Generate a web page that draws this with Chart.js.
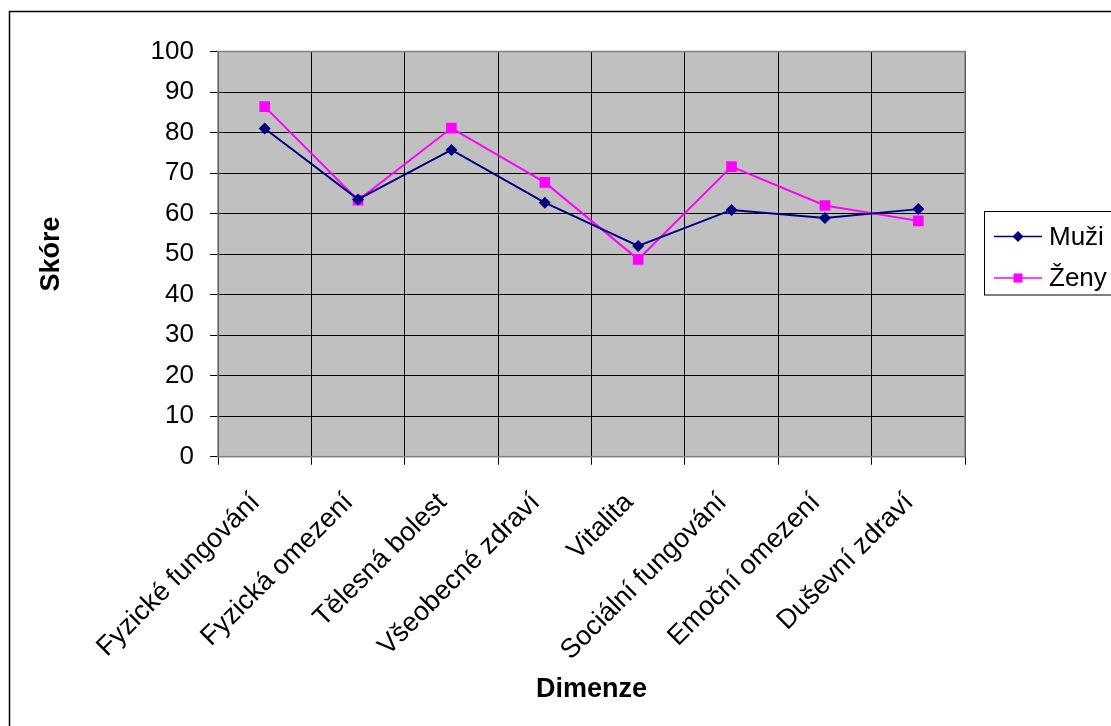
<!DOCTYPE html>
<html>
<head>
<meta charset="utf-8">
<script src="https://cdn.jsdelivr.net/npm/chart.js@4/dist/chart.umd.min.js"></script>
<style>
  html, body { margin: 0; padding: 0; background: #fff; }
  #wrap { width: 1111px; height: 726px; }
</style>
</head>
<body>
<div id="wrap"><canvas id="c" width="1111" height="726"></canvas></div>
<script>
// Dimension categories (SF-36 style scores)
const categories = [
  'Fyzické fungování', 'Fyzická omezení', 'Tělesná bolest', 'Všeobecné zdraví',
  'Vitalita', 'Sociální fungování', 'Emoční omezení', 'Duševní zdraví'
];
const muzi = [81, 63.5, 75.7, 62.7, 52, 60.9, 58.9, 61.1];
const zeny = [86.4, 63.3, 81.1, 67.7, 48.7, 71.6, 62, 58.2];
const yTicks = [0, 10, 20, 30, 40, 50, 60, 70, 80, 90, 100];

const FONT = '"Liberation Sans", Arial, sans-serif';

// White page, grey plot area and the outer frame
const framePlugin = {
  id: 'frame',
  beforeDraw(chart) {
    const { ctx, chartArea: a } = chart;
    ctx.save();
    ctx.fillStyle = '#fff';
    ctx.fillRect(0, 0, chart.width, chart.height);
    ctx.fillStyle = '#C0C0C0';
    ctx.fillRect(a.left, a.top, a.right - a.left, a.bottom - a.top);
    ctx.restore();
  },
  afterDraw(chart) {
    const { ctx, chartArea: a } = chart;
    ctx.save();
    ctx.strokeStyle = '#808080';
    ctx.lineWidth = 1.5;
    ctx.strokeRect(a.left, a.top, a.right - a.left, a.bottom - a.top);
    ctx.strokeStyle = '#000';
    ctx.lineWidth = 1.5;
    ctx.strokeRect(9.5, 11.5, chart.width + 20, chart.height + 20);
    ctx.restore();
  }
};

// Boxed legend at the right with line + marker samples
const boxLegend = {
  id: 'boxLegend',
  afterDraw(chart) {
    const ctx = chart.ctx;
    const bx = 984.5, by = 211.5, bw = 150, bh = 83.5;
    ctx.save();
    ctx.fillStyle = '#fff';
    ctx.fillRect(bx, by, bw, bh);
    ctx.strokeStyle = '#000';
    ctx.lineWidth = 1;
    ctx.strokeRect(bx, by, bw, bh);
    chart.data.datasets.forEach((ds, i) => {
      const y = 236.5 + i * 41.5;
      ctx.strokeStyle = ds.borderColor;
      ctx.lineWidth = 1.5;
      ctx.beginPath();
      ctx.moveTo(994, y);
      ctx.lineTo(1042, y);
      ctx.stroke();
      ctx.fillStyle = ds.borderColor;
      ctx.beginPath();
      if (ds.pointStyle === 'rectRot') {
        const r = 5.5;
        ctx.moveTo(1018, y - r);
        ctx.lineTo(1018 + r, y);
        ctx.lineTo(1018, y + r);
        ctx.lineTo(1018 - r, y);
        ctx.closePath();
      } else {
        ctx.rect(1018 - 4.5, y - 4.5, 9, 9);
      }
      ctx.fill();
      ctx.fillStyle = '#000';
      ctx.font = '26px ' + FONT;
      ctx.textBaseline = 'middle';
      ctx.textAlign = 'left';
      ctx.fillText(ds.label, 1049, y + 1);
    });
    ctx.restore();
  }
};

new Chart(document.getElementById('c'), {
  type: 'line',
  data: {
    labels: categories,
    datasets: [
      {
        label: 'Muži',
        data: muzi,
        borderColor: '#000080',
        backgroundColor: '#000080',
        borderWidth: 2,
        pointStyle: 'rectRot',
        pointRadius: 6,
        pointHoverRadius: 6,
        pointBorderWidth: 0,
        tension: 0
      },
      {
        label: 'Ženy',
        data: zeny,
        borderColor: '#FF00FF',
        backgroundColor: '#FF00FF',
        borderWidth: 2,
        pointStyle: 'rect',
        pointRadius: 7.5,
        pointHoverRadius: 7.5,
        pointBorderWidth: 0,
        tension: 0
      }
    ]
  },
  options: {
    responsive: false,
    animation: false,
    devicePixelRatio: 1,
    layout: { padding: { top: 51.5, right: 146, left: 0, bottom: 0 } },
    plugins: { legend: { display: false }, tooltip: { enabled: false } },
    scales: {
      x: {
        offset: true,
        grid: { offset: true, color: '#000', lineWidth: 1, tickLength: 8, tickColor: '#000' },
        border: { display: false },
        ticks: {
          autoSkip: false, maxRotation: 45, minRotation: 45,
          color: '#000', font: { family: FONT, size: 27 }, padding: 22,
          labelOffset: -9
        },
        title: {
          display: true, text: 'Dimenze', color: '#000',
          font: { family: FONT, size: 27, weight: 'bold' },
          padding: { top: 0, bottom: 20 }
        },
        afterFit(scale) { scale.height = 269.3; }
      },
      y: {
        min: 0, max: 100,
        afterBuildTicks(scale) { scale.ticks = yTicks.map(v => ({ value: v })); },
        grid: { color: '#000', lineWidth: 1, tickLength: 8, tickColor: '#000' },
        border: { display: false },
        ticks: { color: '#000', font: { family: FONT, size: 26 }, padding: 16 },
        title: {
          display: true, text: 'Skóre', color: '#000',
          font: { family: FONT, size: 27, weight: 'bold' },
          padding: { top: 35, bottom: 0 }
        },
        afterFit(scale) { scale.width = 218; }
      }
    }
  },
  plugins: [framePlugin, boxLegend]
});
</script>
</body>
</html>
